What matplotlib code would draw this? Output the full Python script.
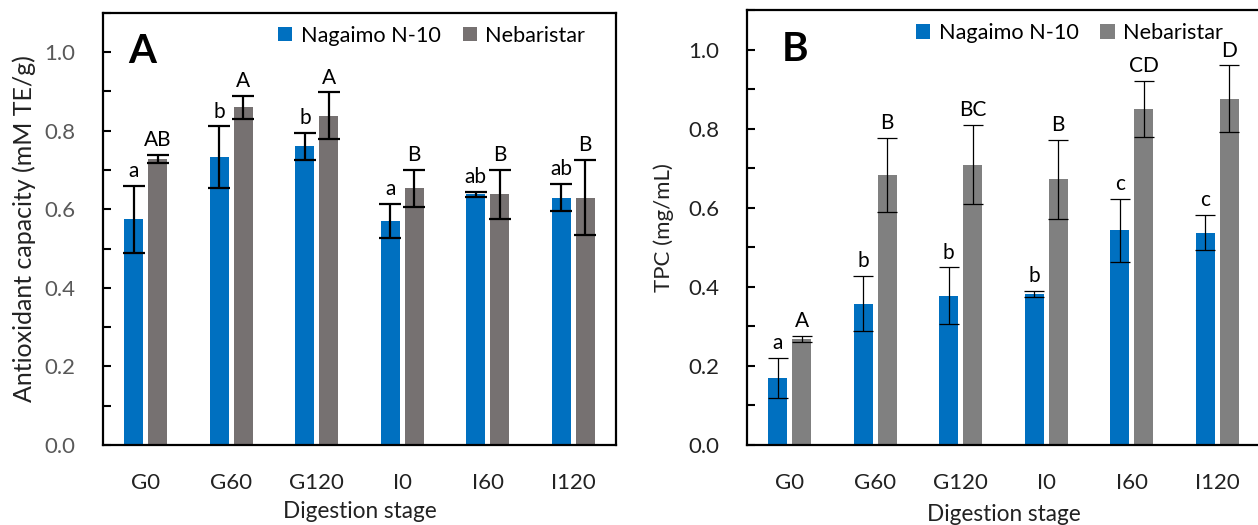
import numpy as np
import matplotlib
matplotlib.use("Agg")
import matplotlib.pyplot as plt
from matplotlib.ticker import MultipleLocator

plt.rcParams['font.family'] = ['Lato', 'DejaVu Sans']

stages = ['G0', 'G60', 'G120', 'I0', 'I60', 'I120']

# panel A - antioxidant capacity
anti_nag = [0.575, 0.733, 0.760, 0.570, 0.638, 0.630]
anti_nag_err = [0.085, 0.078, 0.035, 0.043, 0.007, 0.035]
anti_neb = [0.728, 0.860, 0.838, 0.653, 0.638, 0.630]
anti_neb_err = [0.010, 0.029, 0.060, 0.047, 0.063, 0.095]
anti_nag_lab = ['a', 'b', 'b', 'a', 'ab', 'ab']
anti_neb_lab = ['AB', 'A', 'A', 'B', 'B', 'B']

# panel B - TPC
tpc_nag = [0.170, 0.357, 0.377, 0.382, 0.543, 0.537]
tpc_nag_err = [0.050, 0.070, 0.072, 0.008, 0.080, 0.044]
tpc_neb = [0.268, 0.682, 0.709, 0.672, 0.850, 0.876]
tpc_neb_err = [0.007, 0.094, 0.100, 0.100, 0.070, 0.084]
tpc_nag_lab = ['a', 'b', 'b', 'b', 'c', 'c']
tpc_neb_lab = ['A', 'B', 'BC', 'B', 'CD', 'D']

blue = '#0070C0'

fig = plt.figure(figsize=(12.58, 5.25), dpi=100)
axA = fig.add_axes([0.0819, 0.1524, 0.4078, 0.823])
axB = fig.add_axes([0.5938, 0.1524, 0.4078, 0.8286])


def draw(ax, nag, nag_err, neb, neb_err, nag_lab, neb_lab, gray, elw, cap,
         tickcol, ylabel, ylsize, ylpad, panel, px, legx, xlpad):
    x = np.arange(len(stages))
    w = 0.22
    off = 0.14
    ax.bar(x - off, nag, w, color=blue, label='Nagaimo N-10', zorder=2)
    ax.bar(x + off, neb, w, color=gray, label='Nebaristar', zorder=2)
    ax.errorbar(x - off, nag, yerr=nag_err, fmt='none', ecolor='black',
                elinewidth=elw, capsize=cap, capthick=elw, zorder=3)
    ax.errorbar(x + off, neb, yerr=neb_err, fmt='none', ecolor='black',
                elinewidth=elw, capsize=cap, capthick=elw, zorder=3)
    for i in range(len(stages)):
        ax.text(x[i] - off, nag[i] + nag_err[i] + 0.012, nag_lab[i],
                ha='center', va='bottom', fontsize=15)
        ax.text(x[i] + off, neb[i] + neb_err[i] + 0.012, neb_lab[i],
                ha='center', va='bottom', fontsize=15)
    ax.set_xlim(-0.5, 5.5)
    ax.set_xticks(x)
    ax.set_xticklabels(stages)
    ax.yaxis.set_minor_locator(MultipleLocator(0.1))
    ax.set_yticks(np.arange(0, 1.01, 0.2))
    ax.set_yticklabels(['%.1f' % v for v in np.arange(0, 1.01, 0.2)])
    ax.set_ylim(0, 1.1)
    ax.tick_params(axis='y', which='both', direction='in', length=6, width=1.5,
                   pad=20, labelsize=16, labelcolor=tickcol)
    ax.tick_params(axis='x', length=0, pad=20, labelsize=16, labelcolor='#222222')
    for s in ax.spines.values():
        s.set_linewidth(1.6)
    ax.set_xlabel('Digestion stage', fontsize=16.3, labelpad=xlpad, color='#222222')
    ax.set_ylabel(ylabel, fontsize=ylsize, labelpad=ylpad, color='#222222')
    ax.text(px, 0.91, panel, transform=ax.transAxes, fontsize=29,
            fontweight='bold', ha='center', va='center')
    ax.legend(loc='center right', bbox_to_anchor=(legx, 0.947), ncol=2,
              frameon=False, fontsize=15.6, handlelength=0.65, handleheight=0.65,
              handletextpad=0.4, columnspacing=1.0, borderaxespad=0, borderpad=0)


draw(axA, anti_nag, anti_nag_err, anti_neb, anti_neb_err, anti_nag_lab,
     anti_neb_lab, '#767171', 1.6, 8, '#595959',
     'Antioxidant capacity (mM TE/g)', 18, 6, 'A', 0.076, 0.94, 6)
draw(axB, tpc_nag, tpc_nag_err, tpc_neb, tpc_neb_err, tpc_nag_lab,
     tpc_neb_lab, '#808080', 0.9, 7, '#222222', 'TPC (mg/mL)', 16, 10,
     'B', 0.093, 0.928, 8)

fig.savefig('out.png', dpi=100)
